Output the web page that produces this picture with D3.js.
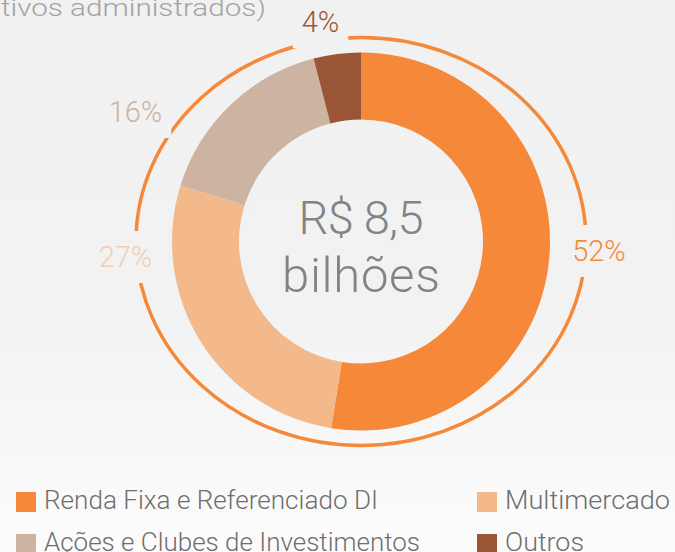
<!DOCTYPE html>
<html>
<head>
<meta charset="utf-8">
<script src="https://cdn.jsdelivr.net/npm/d3@7"></script>
<style>
  html, body { margin: 0; padding: 0; background: #f1f1f1; }
  svg { display: block; }
  text { font-family: Roboto, "Noto Sans", sans-serif; }
</style>
</head>
<body>
<svg id="chart" width="675" height="552"></svg>
<script>
// ---- data ----
const categories = ["Renda Fixa e Referenciado DI", "Multimercado", "Ações e Clubes de Investimentos", "Outros"];
const values = [52, 27, 16, 4];
const valueLabels = ["52%", "27%", "16%", "4%"];
const sliceColors = ["#f58839", "#f3b98a", "#cdb3a1", "#9a5536"];
const labelColors = ["#f58839", "#f3cdb2", "#cdb3a1", "#9a5536"];
const titleText = "tivos administrados)";
const centerLines = ["R$ 8,5", "bilhões"];

// ---- layout ----
const W = 675, H = 552;
const cx = 361, cy = 241.5;
const rOuter = 189, rInner = 122;
const ringRx = 225, ringRy = 204;
const labelPos = [ [599, 261], [125.5, 267], [135.5, 122], [320.5, 32] ];

const svg = d3.select("#chart");
const defs = svg.append("defs");

const grad = defs.append("linearGradient").attr("id", "bg").attr("x1", 0).attr("y1", 0).attr("x2", 0).attr("y2", 1);
grad.append("stop").attr("offset", "0").attr("stop-color", "#f1f1f1");
grad.append("stop").attr("offset", "0.55").attr("stop-color", "#f2f2f2");
grad.append("stop").attr("offset", "1").attr("stop-color", "#fcfcfc");
svg.append("rect").attr("width", W).attr("height", H).attr("fill", "url(#bg)");

// title (cut off at left in the original)
svg.append("text")
  .attr("x", 1).attr("y", 16)
  .attr("font-size", 23).attr("font-weight", 300)
  .attr("fill", "#a3a3a3")
  .attr("textLength", 265)
  .attr("lengthAdjust", "spacingAndGlyphs")
  .text(titleText);

// donut
const pie = d3.pie().sort(null).value(d => d)(values);
const arc = d3.arc().innerRadius(rInner).outerRadius(rOuter);
const g = svg.append("g").attr("transform", `translate(${cx},${cy})`);
g.selectAll("path.slice").data(pie).enter().append("path")
  .attr("class", "slice")
  .attr("d", arc)
  .attr("fill", (d, i) => sliceColors[i]);

// labels
const lbls = svg.append("g").selectAll("text").data(valueLabels).enter().append("text")
  .attr("x", (d, i) => labelPos[i][0])
  .attr("y", (d, i) => labelPos[i][1])
  .attr("text-anchor", "middle")
  .attr("font-size", 29).attr("font-weight", 300)
  .attr("fill", (d, i) => labelColors[i])
  .text(d => d);

// mask for outer ring (gaps at labels)
const mask = defs.append("mask").attr("id", "ringMask").attr("maskUnits", "userSpaceOnUse")
  .attr("x", 0).attr("y", 0).attr("width", W).attr("height", H);
mask.append("rect").attr("width", W).attr("height", H).attr("fill", "white");
lbls.each(function() {
  const b = this.getBBox();
  const pad = 9;
  mask.append("rect")
    .attr("x", b.x - pad).attr("y", b.y - pad)
    .attr("width", b.width + 2 * pad).attr("height", b.height + 2 * pad)
    .attr("fill", "black");
});

svg.insert("ellipse", "g")
  .attr("cx", cx).attr("cy", cy).attr("rx", ringRx).attr("ry", ringRy)
  .attr("fill", "none").attr("stroke", "#f58839").attr("stroke-width", 3.5)
  .attr("mask", "url(#ringMask)");

// center text
svg.append("g").selectAll("text").data(centerLines).enter().append("text")
  .attr("x", cx)
  .attr("y", (d, i) => i === 0 ? 234 : 292)
  .attr("text-anchor", "middle")
  .attr("font-size", (d, i) => i === 0 ? 47 : 49).attr("font-weight", 300)
  .attr("fill", "#838383")
  .attr("textLength", (d, i) => i === 0 ? 125 : 158)
  .attr("lengthAdjust", "spacing")
  .text(d => d);

// legend
const legendCols = [16, 477];
const legendRows = [492, 534];
const legendWidths = [334, 165, 376, 79];
const lg = svg.append("g").selectAll("g").data(categories).enter().append("g")
  .attr("transform", (d, i) => `translate(${legendCols[i % 2]},${legendRows[Math.floor(i / 2)]})`);
lg.append("rect").attr("width", 20).attr("height", 20).attr("fill", (d, i) => sliceColors[i]);
lg.append("text")
  .attr("x", 28).attr("y", 16.5)
  .attr("font-size", 26).attr("font-weight", 300)
  .attr("fill", "#6e6e6e")
  .attr("textLength", (d, i) => legendWidths[i])
  .attr("lengthAdjust", "spacingAndGlyphs")
  .text(d => d);
</script>
</body>
</html>
